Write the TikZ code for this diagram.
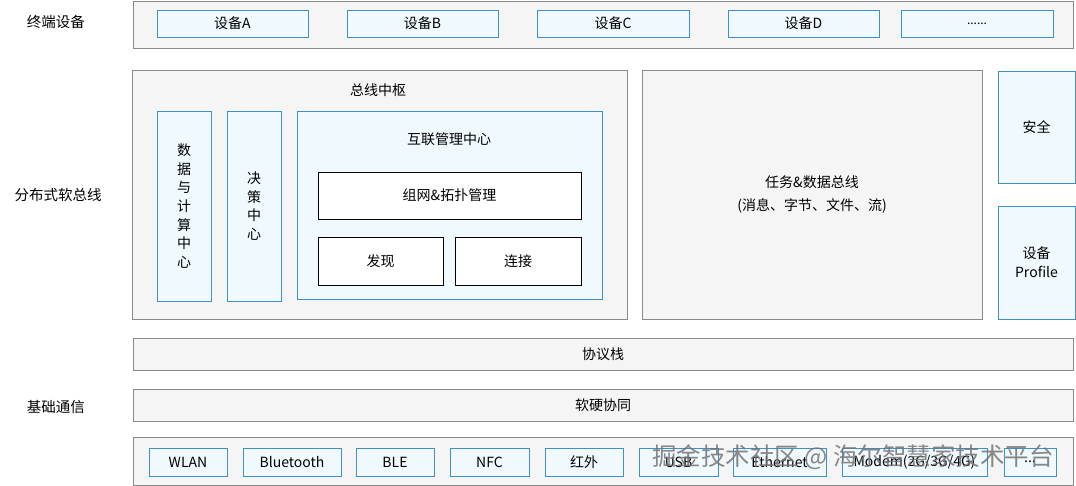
\documentclass[tikz,border=0pt]{standalone}
\usepackage{fontspec}
\setmainfont{Noto Sans CJK SC}
\usetikzlibrary{positioning}

\definecolor{layerfill}{HTML}{F5F5F5}
\definecolor{layerline}{HTML}{8A8A8A}
\definecolor{bluefill}{HTML}{F0F9FE}
\definecolor{blueline}{HTML}{3D90C8}

\begin{document}
\begin{tikzpicture}[
                x=1pt, y=-1pt,
                layer/.style={rectangle, draw=layerline, fill=layerfill, line width=0.9pt, inner sep=0pt, align=center, font=\fontsize{14}{17}\selectfont},
                unit/.style={rectangle, draw=blueline, fill=bluefill, line width=0.9pt, inner sep=0pt, align=center, font=\fontsize{14}{18.6}\selectfont},
                plain/.style={rectangle, draw=black, fill=white, line width=0.9pt, inner sep=0pt, align=center, font=\fontsize{14}{17}\selectfont},
                tag/.style={inner sep=0pt, align=center, font=\fontsize{14.5}{17}\selectfont}
            ]
                \useasboundingbox (0,0) rectangle (1076,486);

                % left labels
                \node[tag] (lterm) at (56,22) {终端设备};
                \node[tag] (lbus) at (58,195) {分布式软总线};
                \node[tag] (lbase) at (56,407) {基础通信};

                % terminal devices
                \node[layer, minimum width=940pt, minimum height=46.5pt] (term) at (603,24.75) {};
                \node[unit, minimum width=151pt, minimum height=27pt] (devA) at (232.5,23.5) {设备A};
                \node[unit, minimum width=151pt, minimum height=27pt] (devB) at (422.5,23.5) {设备B};
                \node[unit, minimum width=152pt, minimum height=27pt] (devC) at (613,23.5) {设备C};
                \node[unit, minimum width=151pt, minimum height=27pt] (devD) at (803.5,23.5) {设备D};
                \node[unit, minimum width=152pt, minimum height=27pt] (devE) at (977,23.5) {\fontsize{12}{12}\selectfont ......};

                % bus hub
                \node[layer, minimum width=495pt, minimum height=249pt] (hub) at (379.5,194.5) {};
                \node[tag, font=\fontsize{14}{17}\selectfont] (hubtxt) at (378,90) {总线中枢};
                \node[unit, minimum width=54pt, minimum height=190pt] (data) at (184,206) {数\\据\\与\\计\\算\\中\\心};
                \node[unit, minimum width=54pt, minimum height=190pt] (decide) at (254,206) {决\\策\\中\\心};
                \node[unit, minimum width=305pt, minimum height=188pt] (link) at (449.5,205) {};
                \node[tag, font=\fontsize{14}{17}\selectfont] (linktxt) at (449,139) {互联管理中心};
                \node[plain, minimum width=263pt, minimum height=47pt] (topo) at (449.5,195.5) {组网\&拓扑管理};
                \node[plain, minimum width=125pt, minimum height=48pt] (find) at (380.5,261) {发现};
                \node[plain, minimum width=126pt, minimum height=48pt] (conn) at (518,261) {连接};

                % task & data bus
                \node[layer, minimum width=340pt, minimum height=249pt, font=\fontsize{14}{23}\selectfont] (task) at (812,194.5) {任务\&数据总线\\(消息、字节、文件、流)};
                \node[unit, minimum width=77pt, minimum height=112pt, font=\fontsize{14}{17}\selectfont] (safe) at (1036.5,127) {安全};
                \node[unit, minimum width=77pt, minimum height=113pt, font=\fontsize{14}{19}\selectfont] (prof) at (1036.5,262.5) {设备\\Profile};

                % stack layers
                \node[layer, minimum width=940pt, minimum height=32pt] (proto) at (603,354) {协议栈};
                \node[layer, minimum width=940pt, minimum height=32pt] (hwsw) at (603,405) {软硬协同};

                % links
                \node[layer, minimum width=940pt, minimum height=48pt] (phys) at (603,461) {};
                \node[unit, minimum width=78pt, minimum height=28pt] (wlan) at (188,462) {WLAN};
                \node[unit, minimum width=98pt, minimum height=28pt] (bt) at (292,462) {Bluetooth};
                \node[unit, minimum width=78pt, minimum height=28pt] (ble) at (395,462) {BLE};
                \node[unit, minimum width=79pt, minimum height=28pt] (nfc) at (489.5,462) {NFC};
                \node[unit, minimum width=78pt, minimum height=28pt] (ir) at (584,462) {红外};
                \node[unit, minimum width=79pt, minimum height=28pt] (usb) at (678.5,462) {USB};
                \node[unit, minimum width=93pt, minimum height=28pt] (eth) at (779.5,462) {Ethernet};
                \node[unit, minimum width=145pt, minimum height=28pt] (modem) at (914.5,462) {Modem(2G/3G/4G)};
                \node[unit, minimum width=52pt, minimum height=28pt] (more) at (1030,462) {...};

                % watermark
                \node[inner sep=0pt, text=black!55, opacity=0.85, font=\fontsize{24.5}{26}\selectfont] (mark) at (853,457) {掘金技术社区 @ 海尔智慧家技术平台};
            \end{tikzpicture}
\end{document}
